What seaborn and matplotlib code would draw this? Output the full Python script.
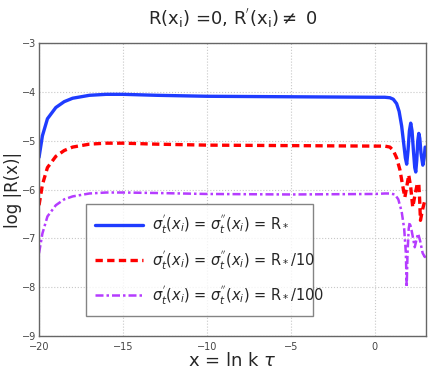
import matplotlib
matplotlib.use("Agg")
import matplotlib.pyplot as plt
import seaborn as sns
import pandas as pd

x_blue = [-20, -19.8, -19.5, -19.0, -18.5, -18.0, -17.0, -16.0, -15.0, -13.0, -10.0, -5.0, 0.0, 0.6, 0.9, 1.1, 1.3, 1.45, 1.6, 1.72, 1.82, 1.9, 1.98, 2.06, 2.14, 2.22, 2.3, 2.38, 2.44, 2.5, 2.56, 2.62, 2.68, 2.75, 2.86, 2.94, 3.0]
y_blue = [-5.34, -4.9, -4.55, -4.32, -4.2, -4.13, -4.07, -4.05, -4.05, -4.07, -4.09, -4.1, -4.11, -4.11, -4.12, -4.15, -4.24, -4.4, -4.7, -5.05, -5.35, -5.48, -5.2, -4.8, -4.64, -4.8, -5.2, -5.55, -5.64, -5.4, -5.0, -4.85, -4.95, -5.25, -5.5, -5.35, -5.13]

x_red = [-20, -19.8, -19.5, -19, -18.5, -18, -17, -16, -15, -13, -10, -5, 0, 0.6, 0.9, 1.1, 1.3, 1.5, 1.65, 1.79, 1.9, 2.02, 2.14, 2.26, 2.4, 2.52, 2.62, 2.67, 2.72, 2.85, 3.0]
y_red = [-6.32, -5.9, -5.55, -5.32, -5.2, -5.13, -5.07, -5.05, -5.05, -5.07, -5.09, -5.1, -5.11, -5.11, -5.13, -5.2, -5.35, -5.6, -5.9, -6.16, -5.95, -5.7, -5.95, -6.36, -6.1, -5.9, -5.87, -6.2, -6.63, -6.4, -6.2]

x_purple = [-20, -19.8, -19.5, -19, -18.5, -18, -17, -16, -15, -13, -10, -5, 0, 0.6, 0.9, 1.2, 1.4, 1.6, 1.75, 1.85, 1.9, 1.95, 2.02, 2.08, 2.2, 2.38, 2.5, 2.58, 2.7, 2.85, 2.98, 3.0]
y_purple = [-7.3, -6.9, -6.55, -6.32, -6.2, -6.14, -6.08, -6.06, -6.06, -6.07, -6.09, -6.1, -6.09, -6.08, -6.08, -6.1, -6.2, -6.45, -6.8, -7.3, -8.0, -7.3, -6.8, -6.67, -6.85, -7.18, -7.0, -6.9, -7.05, -7.3, -7.38, -7.35]

labels = [r"$\sigma_t^{'}(x_i)$ = $\sigma_t^{''}(x_i)$ = R$_*$",
          r"$\sigma_t^{'}(x_i)$ = $\sigma_t^{''}(x_i)$ = R$_*$/10",
          r"$\sigma_t^{'}(x_i)$ = $\sigma_t^{''}(x_i)$ = R$_*$/100"]

sns.set_style("white")
plt.rcParams['font.family'] = ['DejaVu Sans']
plt.rcParams['mathtext.fontset'] = 'dejavusans'

fig = plt.figure(figsize=(4.29, 3.71), dpi=100)
ax = fig.add_axes([0.091, 0.094, 0.902, 0.79])

styles = [
    (x_blue, y_blue, '#1f3cff', '-', 2.4, labels[0]),
    (x_red, y_red, '#ff0000', (0, (2.2, 1.3)), 2.4, labels[1]),
    (x_purple, y_purple, '#b53cff', (0, (3.2, 1.2, 1.0, 1.2)), 1.8, labels[2]),
]
for xs, ys, c, ls, lw, lab in styles:
    df = pd.DataFrame({'x': xs, 'y': ys})
    sns.lineplot(data=df, x='x', y='y', ax=ax, color=c, linestyle=ls, linewidth=lw,
                 label=lab, sort=False, estimator=None)

ax.set_xlim(-20, 3.05)
ax.set_ylim(-9, -3)
ax.set_xticks([-20, -15, -10, -5, 0])
ax.set_yticks([-9, -8, -7, -6, -5, -4, -3])
ax.set_xticklabels(['\u221220', '\u221215', '\u221210', '\u22125', '0'])
ax.set_yticklabels(['\u22129', '\u22128', '\u22127', '\u22126', '\u22125', '\u22124', '\u22123'])
ax.tick_params(labelsize=7, direction='in', length=3, colors='#444444')
ax.tick_params(axis='x', pad=4)
ax.tick_params(axis='y', pad=2)
for lab in ax.get_yticklabels():
    lab.set_verticalalignment('center_baseline')
ax.grid(True, linestyle=':', color='#c8c8c8', linewidth=0.8)
for s in ax.spines.values():
    s.set_color('#666666')
    s.set_linewidth(1.0)

ax.set_xlabel(r"x = ln k $\tau$", fontsize=13, labelpad=0)
ax.set_ylabel("log |R(x)|", fontsize=12, labelpad=0)
ax.set_title(r"R(x$_\mathrm{i}$) =0, R$^{'}$(x$_\mathrm{i}$)$\neq$ 0", fontsize=13, pad=13)

leg = ax.legend(loc='lower left', bbox_to_anchor=(0.103, 0.045, 0.625, 0.35), mode='expand',
                fontsize=10.5, frameon=True, fancybox=False, edgecolor='#666666',
                handlelength=3.3, labelspacing=0.8, borderpad=0.6, handletextpad=0.6)
leg.get_frame().set_linewidth(1.0)

fig.savefig("out.png", dpi=100)
